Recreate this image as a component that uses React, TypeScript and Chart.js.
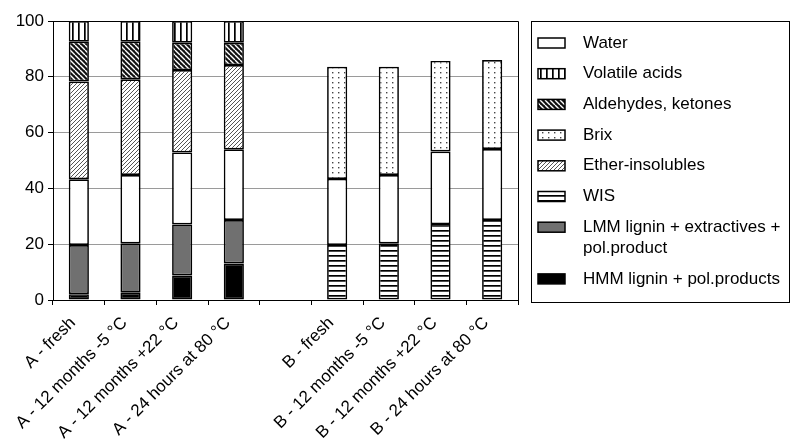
import React, { useEffect, useRef } from "react";
import { Chart, registerables } from "chart.js";

Chart.register(...registerables);

const categories = [
  "A - fresh",
  "A - 12 months -5 °C",
  "A - 12 months +22 °C",
  "A - 24 hours at 80 °C",
  "",
  "B - fresh",
  "B - 12 months -5 °C",
  "B - 12 months +22 °C",
  "B - 24 hours at 80 °C",
];

const hmm = [2.1, 2.6, 8.8, 13.1, null, null, null, null, null];
const lmm = [17.6, 17.7, 18.3, 15.6, null, null, null, null, null];
const wis = [null, null, null, null, null, 19.7, 20.3, 27.2, 28.7];
const water = [23.6, 24.5, 25.8, 25.3, null, 23.7, 24.5, 26.0, 25.4];
const ether = [35.0, 34.3, 29.5, 30.2, null, null, null, null, null];
const brix = [null, null, null, null, null, 40.2, 38.8, 32.5, 31.9];
const aldehydes = [14.3, 13.5, 9.8, 8.0, null, null, null, null, null];
const volatile = [7.4, 7.4, 7.8, 7.8, null, null, null, null, null];

const yTicks = [0, 20, 40, 60, 80, 100];

const legendOrder = [
  "Water",
  "Volatile acids",
  "Aldehydes, ketones",
  "Brix",
  "Ether-insolubles",
  "WIS",
  "LMM lignin + extractives +\npol.product",
  "HMM lignin + pol.products",
];

const FONT = "'Liberation Sans', Arial, sans-serif";

function makePattern(w: number, h: number, draw: (c: CanvasRenderingContext2D) => void) {
  const cv = document.createElement("canvas");
  cv.width = w;
  cv.height = h;
  const c = cv.getContext("2d")!;
  draw(c);
  const p = c.createPattern(cv, "repeat");
  return p as CanvasPattern;
}

function diag(c: CanvasRenderingContext2D, s: number, back: boolean) {
  c.beginPath();
  for (let k = -1; k <= 1; k++) {
    if (back) {
      c.moveTo(k * s, 0);
      c.lineTo(k * s + s, s);
    } else {
      c.moveTo(k * s, s);
      c.lineTo(k * s + s, 0);
    }
  }
  c.stroke();
}

export default function App() {
  const ref = useRef<HTMLCanvasElement>(null);

  useEffect(() => {
    const canvas = ref.current!;
    const pVolatile = makePattern(6, 5, (c) => {
      c.fillStyle = "#fff";
      c.fillRect(0, 0, 6, 5);
      c.fillStyle = "#000";
      c.fillRect(0, 0, 1.7, 5);
    });
    const pAld = makePattern(5, 5, (c) => {
      c.fillStyle = "#111";
      c.fillRect(0, 0, 5, 5);
      c.strokeStyle = "#fff";
      c.lineWidth = 1.4;
      diag(c, 5, true);
    });
    const pEther = makePattern(4, 4, (c) => {
      c.fillStyle = "#fff";
      c.fillRect(0, 0, 4, 4);
      c.strokeStyle = "#555";
      c.lineWidth = 1;
      diag(c, 4, false);
    });
    const pBrix = makePattern(6, 5, (c) => {
      c.fillStyle = "#fff";
      c.fillRect(0, 0, 6, 5);
      c.fillStyle = "#444";
      c.fillRect(2, 2, 1.4, 1.4);
    });
    const pWis = makePattern(5, 5, (c) => {
      c.fillStyle = "#fff";
      c.fillRect(0, 0, 5, 5);
      c.fillStyle = "#000";
      c.fillRect(0, 0, 5, 1.7);
    });

    const fills: Record<string, any> = {
      Water: "#ffffff",
      "Volatile acids": pVolatile,
      "Aldehydes, ketones": pAld,
      Brix: pBrix,
      "Ether-insolubles": pEther,
      WIS: pWis,
      "LMM lignin + extractives +\npol.product": "#707070",
      "HMM lignin + pol.products": "#000000",
    };

    const mk = (label: string, data: (number | null)[]) => ({
      label,
      data,
      backgroundColor: fills[label],
      borderColor: "#000",
      borderWidth: 1.7,
      borderSkipped: false,
      categoryPercentage: 1,
      barPercentage: 0.39,
    });

    const legendPlugin = {
      id: "boxLegend",
      afterDraw(chart: any) {
        const ctx = chart.ctx as CanvasRenderingContext2D;
        const left = chart.chartArea.right + 13;
        const top = chart.chartArea.top;
        const right = chart.width - 1;
        const bottom = chart.chartArea.bottom + 2;
        ctx.save();
        ctx.strokeStyle = "#000";
        ctx.lineWidth = 1;
        const ca = chart.chartArea;
        ctx.beginPath();
        ctx.moveTo(Math.round(ca.left) + 0.5, Math.round(ca.top) + 0.5);
        ctx.lineTo(Math.round(ca.right) + 0.5, Math.round(ca.top) + 0.5);
        ctx.lineTo(Math.round(ca.right) + 0.5, Math.round(ca.bottom) + 0.5);
        ctx.stroke();
        ctx.strokeRect(Math.round(left) + 0.5, Math.round(top) + 0.5, right - Math.round(left), bottom - Math.round(top));
        ctx.font = `17px ${FONT}`;
        ctx.textBaseline = "middle";
        let extra = 0;
        legendOrder.forEach((label, i) => {
          const y = top + 22 + i * 30.7 + extra * 21;
          ctx.fillStyle = fills[label];
          ctx.fillRect(left + 7, y - 5, 27, 10);
          ctx.strokeStyle = "#000";
          ctx.lineWidth = 1.5;
          ctx.strokeRect(left + 7, y - 5, 27, 10);
          ctx.fillStyle = "#000";
          const lines = label.split("\n");
          lines.forEach((ln, j) => ctx.fillText(ln, left + 52, y + j * 21));
          extra += lines.length - 1;
        });
        ctx.restore();
      },
    };

    const chart = new Chart(canvas, {
      type: "bar",
      data: {
        labels: categories,
        datasets: [
          mk("HMM lignin + pol.products", hmm),
          mk("LMM lignin + extractives +\npol.product", lmm),
          mk("WIS", wis),
          mk("Water", water),
          mk("Ether-insolubles", ether),
          mk("Brix", brix),
          mk("Aldehydes, ketones", aldehydes),
          mk("Volatile acids", volatile),
        ] as any,
      },
      options: {
        responsive: false,
        animation: false,
        layout: { padding: { left: 0, top: 21, right: 272, bottom: 0 } },
        plugins: { legend: { display: false }, tooltip: { enabled: false } },
        scales: {
          x: {
            stacked: true,
            offset: true,
            grid: {
              offset: true,
              drawOnChartArea: false,
              drawTicks: true,
              tickLength: 5,
              color: "#000",
            },
            border: { color: "#000", width: 1 },
            ticks: {
              maxRotation: 45,
              minRotation: 45,
              autoSkip: false,
              color: "#000",
              font: { family: FONT, size: 17 },
              padding: 8,
              labelOffset: -6,
            },
            afterFit: (s: any) => {
              s.height = 146;
            },
          },
          y: {
            stacked: true,
            min: 0,
            max: 100,
            afterBuildTicks: (s: any) => {
              s.ticks = yTicks.map((v) => ({ value: v }));
            },
            grid: {
              color: (c: any) => (c.tick && (c.tick.value === 0 || c.tick.value === 100) ? "rgba(0,0,0,0)" : "#9a9a9a"),
              tickColor: "#000",
              tickLength: 5,
              lineWidth: 1,
            },
            border: { color: "#000", width: 1 },
            ticks: {
              color: "#000",
              font: { family: FONT, size: 17 },
              padding: 4,
            },
            afterFit: (s: any) => {
              s.width = 53;
            },
          },
        },
      },
      plugins: [legendPlugin],
    });
    return () => chart.destroy();
  }, []);

  return (
    <div style={{ position: "absolute", left: 0, top: 0, width: 790, height: 446, background: "#fff" }}>
      <canvas ref={ref} width={790} height={446} style={{ display: "block" }} />
    </div>
  );
}
